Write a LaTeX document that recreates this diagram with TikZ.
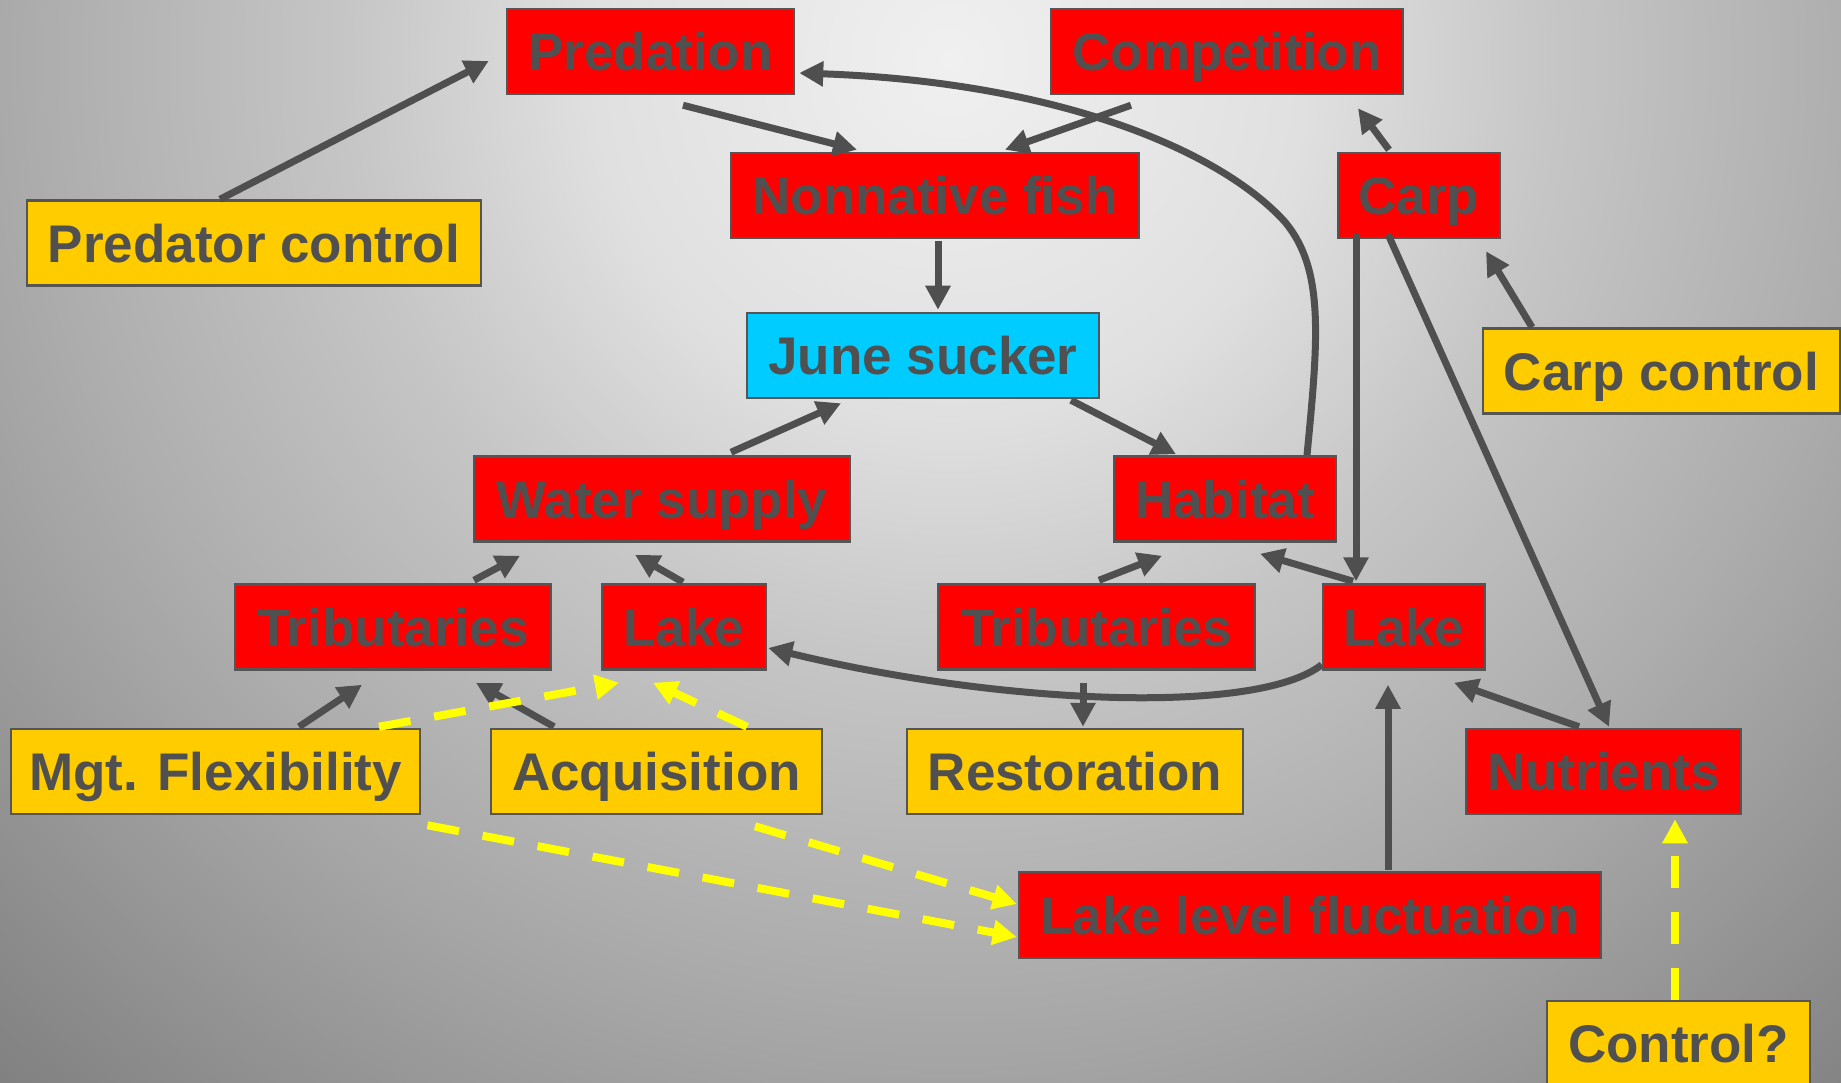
\documentclass[tikz,border=0pt]{standalone}
\usepackage{fontspec}
\setmainfont{Liberation Sans}
\usetikzlibrary{arrows.meta}

\definecolor{bgA}{HTML}{F0F0F0}
\definecolor{bgB}{HTML}{E0E0E0}
\definecolor{bgC}{HTML}{C6C6C6}
\definecolor{bgD}{HTML}{AEAEAE}
\definecolor{bgE}{HTML}{A5A5A5}
\definecolor{bgF}{HTML}{808080}
\definecolor{bgG}{HTML}{7A7A7A}
\definecolor{boxred}{HTML}{FF0000}
\definecolor{boxyel}{HTML}{FFCC00}
\definecolor{boxcyan}{HTML}{00CCFF}
\definecolor{edge}{HTML}{555555}
\definecolor{txt}{HTML}{505050}
\definecolor{lnk}{HTML}{4F4F4F}
\definecolor{dashyel}{HTML}{FFFF00}

% 25bp corresponds to the radius of the shaded disc
\pgfdeclareradialshading{bgshade}{\pgfpoint{0bp}{0bp}}{%
  color(0bp)=(bgA); color(5.75bp)=(bgB); color(9.7bp)=(bgC);
  color(14.5bp)=(bgD); color(16.15bp)=(bgE); color(22.6bp)=(bgF);
  color(25bp)=(bgG); color(50bp)=(bgG)}

\tikzset{
  box/.style={draw=edge, line width=2.5pt, inner sep=0pt, minimum height=85pt,
    text height=38pt, text depth=0pt, text=txt,
    font=\fontsize{53pt}{60pt}\selectfont\bfseries},
  redbox/.style={box, fill=boxred},
  yelbox/.style={box, fill=boxyel},
  cyanbox/.style={box, fill=boxcyan},
  conn/.style={draw=lnk, line width=7pt, -{Triangle[length=24pt,width=24pt]}},
  ydash/.style={draw=dashyel, line width=8pt, dash pattern=on 32pt off 24pt,
    -{Triangle[length=24pt,width=24pt]}},
}

\begin{document}
\begin{tikzpicture}[x=1pt,y=-1pt]
\useasboundingbox (0,0) rectangle (1841,1083);

% backdrop
\begin{scope}
  \clip (0,0) rectangle (1841,1083);
  \shade[shading=bgshade] (950,60) circle[radius=1550pt];
\end{scope}

% factors
\node[redbox, minimum width=287pt] (pred)  at (650.5,51.5) {Predation};
\node[redbox, minimum width=352pt] (comp)  at (1227,51.5)  {Competition};
\node[redbox, minimum width=408pt] (nonn)  at (935,195.5)  {Nonnative fish};
\node[redbox, minimum width=162pt] (carp)  at (1419,195.5) {Carp};
\node[yelbox, minimum width=454pt] (pctl)  at (254,243)    {Predator control};
\node[cyanbox, minimum width=352pt] (june) at (923,355.5)  {June sucker};
\node[yelbox, minimum width=357pt] (cctl)  at (1661.5,371) {Carp control};
\node[redbox, minimum width=376pt] (water) at (662,499)    {Water supply};
\node[redbox, minimum width=222pt] (hab)   at (1225,499)   {Habitat};
\node[redbox, minimum width=316pt] (tribL) at (393,627)    {Tributaries};
\node[redbox, minimum width=164pt] (lakeL) at (684,627)    {Lake};
\node[redbox, minimum width=317pt] (tribR) at (1096.5,627) {Tributaries};
\node[redbox, minimum width=162pt] (lakeR) at (1404,627)   {Lake};
\node[yelbox, minimum width=409pt] (mgt)   at (215.5,771.5) {Mgt. Flexibility};
\node[yelbox, minimum width=331pt] (acq)   at (656.5,771.5) {Acquisition};
\node[yelbox, minimum width=336pt] (rest)  at (1075,771.5)  {Restoration};
\node[redbox, minimum width=275pt] (nutr)  at (1603.5,771.5) {Nutrients};
\node[redbox, minimum width=582pt, minimum height=86pt] (llf) at (1310,915) {Lake level fluctuation};
\node[yelbox, minimum width=263pt] (ctl)   at (1678.5,1043.5) {Control?};

% influences
\draw[conn] ([xshift=-34pt]pctl.north) -- ([xshift=-17pt,yshift=-9.5pt]pred.west);
\draw[conn] ([xshift=32.5pt,yshift=-10pt]pred.south) -- ([xshift=-78pt,yshift=2pt]nonn.north);
\draw[conn] ([xshift=-96pt,yshift=-10pt]comp.south) -- ([xshift=70pt,yshift=2pt]nonn.north);
\draw[conn] ([xshift=82pt]hab.north) .. controls (1318,340) and (1325,270) .. (1285,222)
            .. controls (1220,150) and (1057,82) .. ([xshift=4pt,yshift=-21.5pt]pred.east);
\draw[conn] ([xshift=3pt,yshift=-2pt]nonn.south) -- ([xshift=15pt,yshift=2pt]june.north);
\draw[conn] ([xshift=69pt,yshift=3pt]water.north) -- ([xshift=-82pt,yshift=-4pt]june.south);
\draw[conn] ([xshift=148pt,yshift=-1pt]june.south) -- ([xshift=-49pt,yshift=1pt]hab.north);
\draw[conn] ([xshift=-30pt,yshift=2pt]carp.north) -- ([xshift=131pt,yshift=-13pt]comp.south);
\draw[conn] ([xshift=-129.5pt]cctl.north) -- ([xshift=67pt,yshift=-12pt]carp.south);
\draw[conn] ([xshift=-63pt,yshift=5pt]carp.south) -- ([xshift=-48pt,yshift=2pt]lakeR.north);
\draw[conn] ([xshift=-31pt,yshift=5pt]carp.south) -- ([xshift=5.5pt,yshift=1pt]nutr.north);
\draw[conn] ([xshift=-51pt,yshift=2pt]lakeR.north) -- ([xshift=35pt,yshift=-11pt]hab.south);
\draw[conn] ([xshift=2.5pt,yshift=3pt]tribR.north) -- ([xshift=-63pt,yshift=-13pt]hab.south);
\draw[conn] ([yshift=6pt]lakeR.south west) .. controls (1256,716) and (998,704) ..
            ([xshift=1pt,yshift=-21pt]lakeL.east);
\draw[conn] ([xshift=-13.5pt,yshift=-12pt]tribR.south) -- ([xshift=8pt,yshift=1pt]rest.north);
\draw[conn] ([xshift=78pt,yshift=1pt]llf.north) -- ([xshift=-16pt,yshift=-14pt]lakeR.south);
\draw[conn] ([xshift=-24.5pt,yshift=1pt]nutr.north) -- ([xshift=50pt,yshift=-12pt]lakeR.south);
\draw[conn] ([xshift=81pt,yshift=3pt]tribL.north) -- ([xshift=-142pt,yshift=-13pt]water.south);
\draw[conn] ([xshift=-1pt,yshift=1pt]lakeL.north) -- ([xshift=-27pt,yshift=-12pt]water.south);
\draw[conn] ([xshift=83.5pt,yshift=1pt]mgt.north) -- ([xshift=-31pt,yshift=-14pt]tribL.south);
\draw[conn] ([xshift=-102.5pt,yshift=1pt]acq.north) -- ([xshift=83pt,yshift=-12pt]tribL.south);

% management options (dashed)
\draw[ydash] ([xshift=163.5pt,yshift=1pt]mgt.north) -- ([xshift=-65pt,yshift=-12pt]lakeL.south);
\draw[ydash] ([xshift=90.5pt,yshift=1pt]acq.north) -- ([xshift=-31pt,yshift=-12pt]lakeL.south);
\draw[ydash] ([xshift=212pt,yshift=-10pt]mgt.south) -- ([xshift=-1pt,yshift=-22pt]llf.west);
\draw[ydash] ([xshift=98.5pt,yshift=-11pt]acq.south) -- ([xshift=-1pt,yshift=11pt]llf.west);
\draw[ydash] ([xshift=-3.5pt]ctl.north) -- ([xshift=71.5pt,yshift=-4pt]nutr.south);
\end{tikzpicture}
\end{document}
